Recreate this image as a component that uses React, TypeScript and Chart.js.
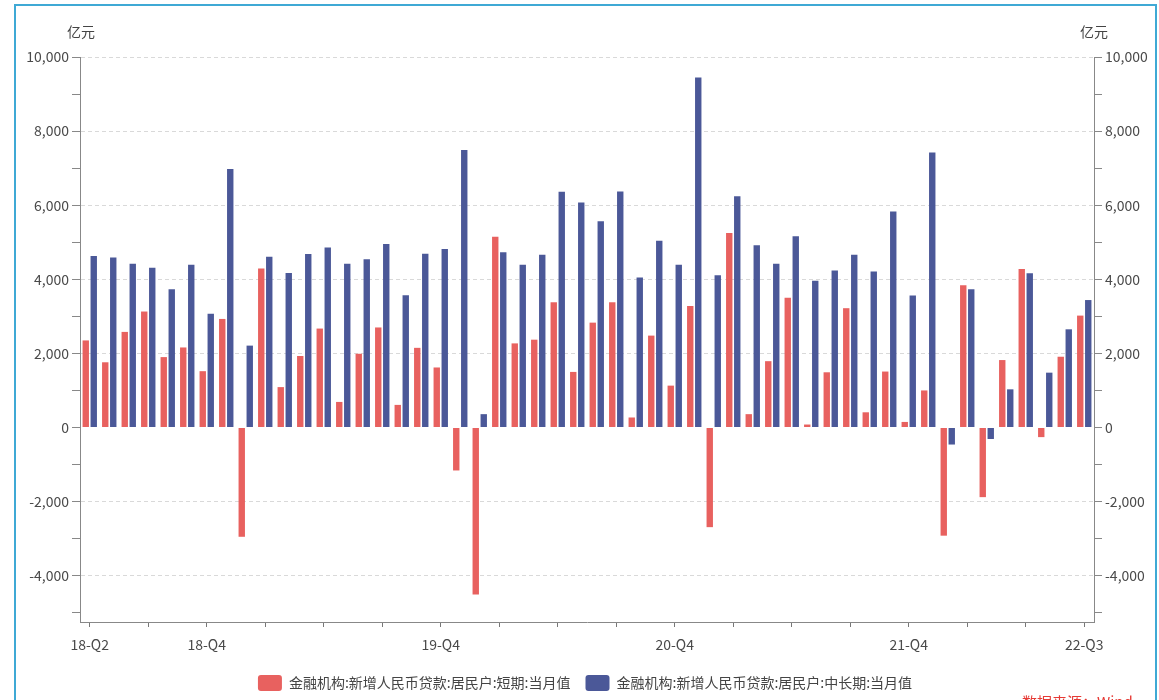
import React, { useEffect, useRef } from 'react';
import { Chart, registerables } from 'chart.js';

Chart.register(...registerables);

// Months (category axis), Jun 2018 – Sep 2022
const months: string[] = [
  '2018-06', '2018-07', '2018-08', '2018-09', '2018-10', '2018-11', '2018-12',
  '2019-01', '2019-02', '2019-03', '2019-04', '2019-05', '2019-06', '2019-07', '2019-08', '2019-09', '2019-10', '2019-11', '2019-12',
  '2020-01', '2020-02', '2020-03', '2020-04', '2020-05', '2020-06', '2020-07', '2020-08', '2020-09', '2020-10', '2020-11', '2020-12',
  '2021-01', '2021-02', '2021-03', '2021-04', '2021-05', '2021-06', '2021-07', '2021-08', '2021-09', '2021-10', '2021-11', '2021-12',
  '2022-01', '2022-02', '2022-03', '2022-04', '2022-05', '2022-06', '2022-07', '2022-08', '2022-09',
];

// 金融机构:新增人民币贷款:居民户:短期:当月值 (亿元)
const shortTerm: number[] = [
  2350, 1760, 2580, 3130, 1900, 2160, 1520,
  2930, -2950, 4290, 1090, 1930, 2670, 690, 1990, 2700, 610, 2150, 1620,
  -1160, -4510, 5150, 2270, 2370, 3380, 1500, 2830, 3380, 270, 2480, 1130,
  3280, -2690, 5250, 360, 1790, 3500, 80, 1490, 3220, 410, 1510, 150,
  1000, -2920, 3840, -1880, 1820, 4280, -260, 1910, 3020,
];

// 金融机构:新增人民币贷款:居民户:中长期:当月值 (亿元)
const longTerm: number[] = [
  4630, 4590, 4420, 4310, 3730, 4390, 3070,
  6980, 2210, 4610, 4170, 4680, 4860, 4420, 4540, 4950, 3570, 4690, 4820,
  7490, 360, 4730, 4390, 4660, 6360, 6070, 5570, 6370, 4050, 5040, 4390,
  9450, 4110, 6240, 4920, 4420, 5160, 3960, 4240, 4660, 4210, 5830, 3560,
  7420, -460, 3730, -310, 1030, 4160, 1480, 2650, 3440,
];

const seriesNames: string[] = [
  '金融机构:新增人民币贷款:居民户:短期:当月值',
  '金融机构:新增人民币贷款:居民户:中长期:当月值',
];

// x-axis labelled months and their labels
const tickMonths: string[] = ['2018-06', '2018-12', '2019-12', '2020-12', '2021-12', '2022-09'];
const tickLabels: string[] = ['18-Q2', '18-Q4', '19-Q4', '20-Q4', '21-Q4', '22-Q3'];

// y-axis tick values (minor every 1000, labelled every 2000)
const yTickValues: number[] = [
  -5000, -4000, -3000, -2000, -1000, 0, 1000, 2000, 3000, 4000, 5000, 6000, 7000, 8000, 9000, 10000,
];

const yMin = -5250;
const yMax = 10000;
const unitLabel = '亿元';
const sourceText = '数据来源：Wind';

const FONT = '"Noto Sans CJK SC", "Liberation Sans", sans-serif';

const unitPlugin = {
  id: 'unitTitles',
  afterDraw(chart: any) {
    const { ctx, scales } = chart;
    ctx.save();
    ctx.font = '14px ' + FONT;
    ctx.fillStyle = '#444';
    ctx.textAlign = 'center';
    ctx.textBaseline = 'middle';
    ctx.fillText(unitLabel, scales.y.right + 1, 32);
    ctx.fillText(unitLabel, scales.y1.left, 32);
    ctx.restore();
  },
};

export default function App() {
  const canvasRef = useRef<HTMLCanvasElement | null>(null);

  useEffect(() => {
    if (!canvasRef.current) return;
    Chart.defaults.font.family = FONT;
    const yGridColor = (ctx: any) => {
      const v = ctx.tick ? ctx.tick.value : NaN;
      return v % 2000 === 0 && v !== 0 ? '#d9d9d9' : 'transparent';
    };
    const yTickColor = (ctx: any) => {
      const v = ctx.tick ? ctx.tick.value : NaN;
      return v % 1000 === 0 ? '#888' : 'transparent';
    };
    const yLabel = (v: any) => (Number(v) % 2000 === 0 ? Number(v).toLocaleString('en-US') : '');
    const setYTicks = (scale: any) => {
      scale.ticks = yTickValues.map((value) => ({ value }));
    };

    const chart = new Chart(canvasRef.current, {
      type: 'bar',
      data: {
        labels: months,
        datasets: [
          {
            label: seriesNames[0],
            data: shortTerm,
            backgroundColor: '#e8615f',
            borderWidth: 0,
            categoryPercentage: 0.82,
            barPercentage: 0.8,
            yAxisID: 'y',
          },
          {
            label: seriesNames[1],
            data: longTerm,
            backgroundColor: '#4b5898',
            borderWidth: 0,
            categoryPercentage: 0.82,
            barPercentage: 0.8,
            yAxisID: 'y',
          },
        ],
      },
      options: {
        animation: false,
        responsive: false,
        maintainAspectRatio: false,
        devicePixelRatio: 1,
        layout: { padding: { left: 16, right: 5, top: 57, bottom: -1 } },
        plugins: {
          legend: {
            position: 'bottom',
            labels: {
              boxWidth: 24,
              boxHeight: 16,
              padding: 15,
              color: '#444',
              font: { size: 14, family: FONT },
              useBorderRadius: true,
              borderRadius: 3,
            },
          },
          tooltip: { enabled: false },
        },
        scales: {
          x: {
            offset: true,
            grid: {
              offset: false,
              drawOnChartArea: false,
              drawTicks: true,
              tickLength: 5,
              color: (ctx: any) => (ctx.index % 3 === 0 ? '#777' : 'transparent'),
            },
            border: { color: '#888', width: 1 },
            ticks: {
              autoSkip: false,
              maxRotation: 0,
              minRotation: 0,
              padding: 9,
              color: '#4a4a4a',
              font: { size: 14, family: FONT },
              callback: (_v: any, i: number) => {
                const k = tickMonths.indexOf(months[i]);
                return k >= 0 ? tickLabels[k] : '';
              },
            },
            afterFit: (scale: any) => {
              scale.height = 38;
            },
          },
          y: {
            position: 'left',
            min: yMin,
            max: yMax,
            afterBuildTicks: setYTicks,
            grid: {
              color: yGridColor,
              tickColor: yTickColor,
              tickLength: 8,
              tickBorderDash: [],
            },
            border: { color: '#888', width: 1, dash: [4, 3] },
            ticks: {
              autoSkip: false,
              padding: 3,
              color: '#4a4a4a',
              font: { size: 14, family: FONT },
              callback: yLabel,
            },
            afterFit: (scale: any) => {
              scale.width = 64;
            },
          },
          y1: {
            position: 'right',
            min: yMin,
            max: yMax,
            afterBuildTicks: setYTicks,
            grid: {
              drawOnChartArea: false,
              color: yTickColor,
              tickLength: 8,
            },
            border: { color: '#888', width: 1 },
            ticks: {
              autoSkip: false,
              padding: 3,
              color: '#4a4a4a',
              font: { size: 14, family: FONT },
              callback: yLabel,
            },
            afterFit: (scale: any) => {
              scale.width = 60;
            },
          },
        },
      } as any,
      plugins: [unitPlugin],
    });
    return () => chart.destroy();
  }, []);

  return (
    <div
      style={{
        position: 'fixed',
        left: 0,
        top: 0,
        width: 1159,
        height: 700,
        overflow: 'hidden',
        background: '#fff',
      }}
    >
      <canvas ref={canvasRef} width={1159} height={700} style={{ position: 'absolute', left: 0, top: 0 }} />
      <div
        style={{
          position: 'absolute',
          left: 14,
          top: 4,
          width: 1139,
          height: 740,
          border: '2px solid #3fa9d5',
          pointerEvents: 'none',
        }}
      />
      <div
        style={{
          position: 'absolute',
          left: 1022,
          top: 693,
          color: '#e63b36',
          fontSize: 15,
          fontFamily: FONT,
          whiteSpace: 'nowrap',
          lineHeight: '18px',
        }}
      >
        {sourceText}
      </div>
    </div>
  );
}
